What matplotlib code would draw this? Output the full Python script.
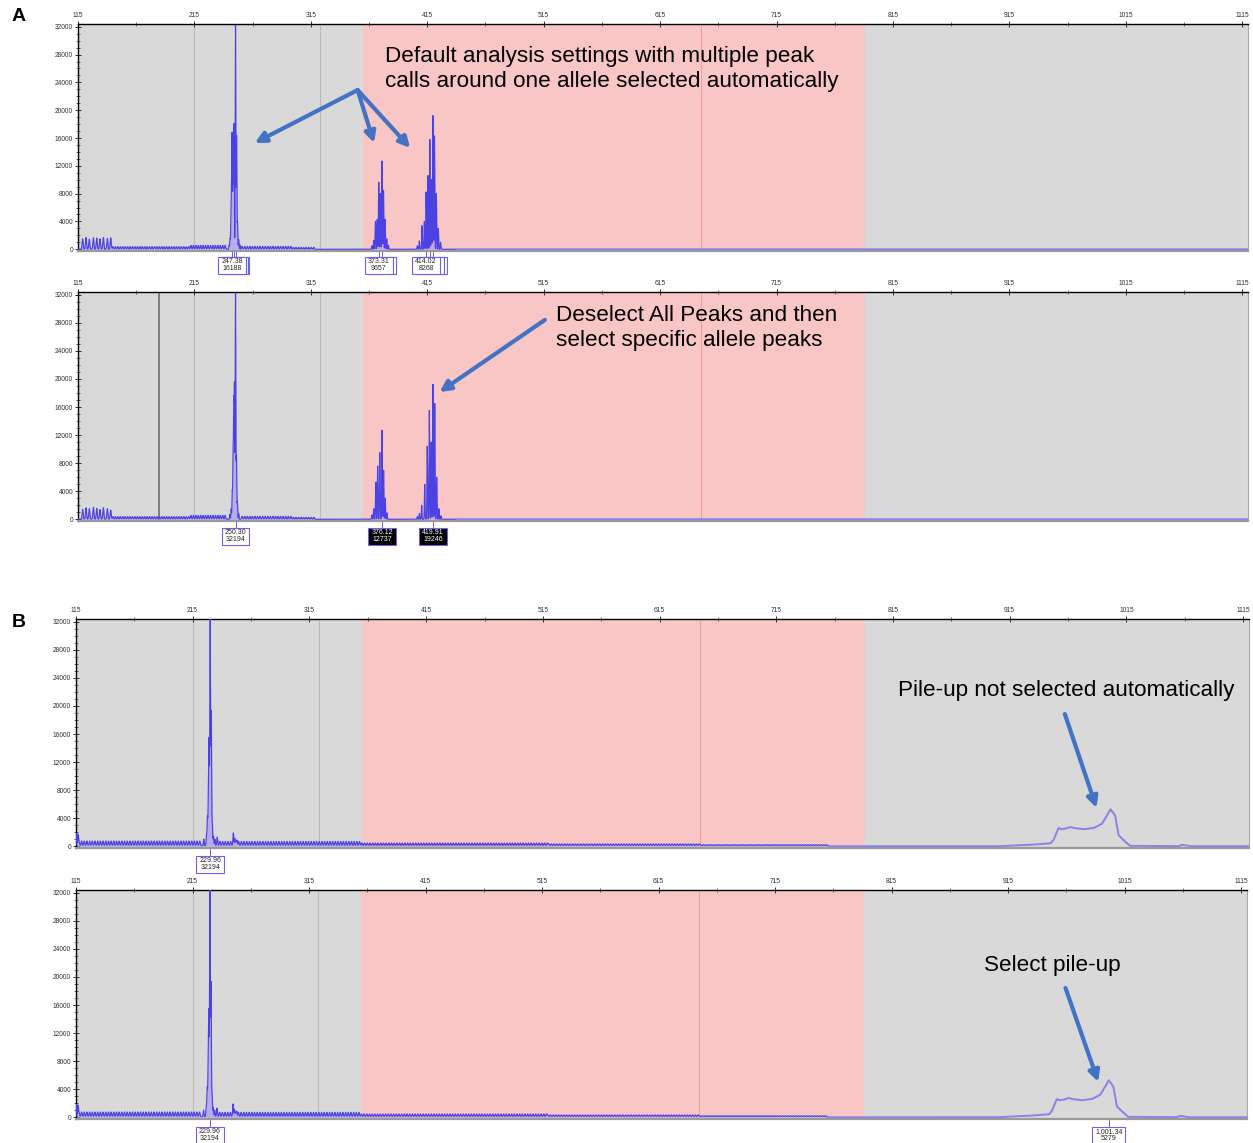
import numpy as np
import matplotlib.pyplot as plt
from matplotlib.patches import Rectangle
from matplotlib.ticker import FixedLocator

plt.rcParams['font.family'] = ['Liberation Sans', 'DejaVu Sans']

W, H = 1253, 1143

# size scale (top) and signal scale (left)
size_ticks = list(range(115, 1116, 100))
size_minor = list(range(165, 1116, 100))
rfu_ticks = list(range(0, 32001, 4000))
rfu_minor = list(range(0, 32001, 1000))

window = (360, 791)
window_mark = 650
grid_marks = [215, 323]
a2_marker = 185

# tall ladder at the start of the A traces
a_start_pos = [119.0, 121.9, 124.7, 128.2, 131.1, 133.9, 136.8, 140.2, 143.1]
a1_start_h = [1500, 1700, 1450, 1650, 1600, 1500, 1700, 1550, 1650]
a2_start_h = [1400, 1650, 1500, 1700, 1550, 1400, 1650, 1500, 1300]

# low ladders: start, stop, spacing, height
a_ladder = [(145, 212, 2.1, 380), (212, 243, 2.1, 560),
            (256, 300, 2.2, 420), (300, 318, 2.2, 280)]
b_ladder = [(117.5, 222, 2.3, 650), (236, 360, 2.3, 600), (360, 520, 2.3, 380),
            (520, 650, 2.3, 240), (650, 760, 2.3, 120)]

# allele peaks, panel A (default settings)
a1_pos = [244.8, 245.6, 246.3, 246.8, 247.38, 248.2, 249.0, 250.30, 251.2, 252.0, 253.0, 254.2,
          367.5, 369.0, 370.5, 372.0, 373.31, 374.7, 376.12, 377.4, 378.8, 380.2, 381.6,
          406.5, 408.2, 410.5, 412.5, 414.02, 415.6, 417.2, 418.6, 419.91, 421.2, 422.8, 424.5, 426.4]
a1_h = [600, 1500, 3000, 8000, 16188, 15800, 18000, 32194, 16300, 4000, 1400, 600,
        500, 1300, 4000, 4300, 9657, 8000, 12737, 8500, 4300, 1500, 600,
        500, 1200, 3400, 4000, 8268, 10600, 15800, 10000, 19246, 16300, 8000, 3000, 1000]

# allele peaks, panel A (manual selection)
a2_pos = [245.5, 246.6, 247.5, 248.2, 248.8, 249.4, 250.30, 251.1, 251.9, 253.0,
          367.5, 369.0, 370.8, 372.4, 374.2, 376.12, 377.5, 378.9, 380.4,
          406.5, 408.2, 410.2, 412.8, 415.0, 416.8, 418.4, 419.91, 421.4, 423.1, 425.0, 426.8]
a2_h = [700, 1500, 4000, 9000, 16000, 18500, 32194, 9000, 2500, 800,
        600, 1500, 5300, 7600, 9500, 12737, 7000, 3000, 900,
        400, 800, 2000, 5000, 10400, 15500, 11000, 19246, 16500, 6000, 1500, 500]

# panel B peaks
b_pos = [115.6, 116.8, 224.5, 226.8, 227.6, 228.4, 229.0, 229.96, 230.9, 231.8, 232.8, 234.0,
         236.0, 249.8, 251.0, 253.0]
b_h = [1800, 1400, 900, 1500, 4000, 6000, 14400, 32194, 19000, 3000, 1300, 900,
       600, 1200, 1000, 700]

# pile-up envelope
pile_x = [905, 913, 931, 950, 952.5, 956.8, 959, 962.5, 966.8, 970, 978, 987, 994, 998.7,
          1001.34, 1005.3, 1008.2, 1012.4, 1018, 1060, 1062, 1064, 1068, 1070]
pile_y = [0, 60, 180, 420, 880, 2600, 2420, 2500, 2750, 2600, 2420, 2600, 3200, 4470,
          5279, 4370, 1580, 880, 60, 0, 180, 180, 60, 0]

# peak calls: clusters of (size, height)
a1_calls = [[(247.38, 16188), (249.00, 18000), (250.30, 32194)],
            [(373.31, 9657), (376.12, 12737)],
            [(414.02, 8268), (417.20, 15800), (419.91, 19246)]]
a2_calls = [[(250.30, 32194)], [(376.12, 12737)], [(419.91, 19246)]]
a2_selected = [False, True, True]
b1_calls = [[(229.96, 32194)]]
b2_calls = [[(229.96, 32194)], [(1001.34, 5279)]]

xs = np.arange(115, 1120, 0.05)
LINE = '#4c42e4'
SOFT = '#8a82e6'
FILL = '#ab9ff0'
EDGE = '#6b62e6'
ARROW = '#4472c4'


def gauss_sum(pos, hts, width):
    y = np.zeros_like(xs)
    for p, h in zip(pos, hts):
        near = np.abs(xs - p) < 6 * width
        y[near] += h * np.exp(-0.5 * ((xs[near] - p) / width) ** 2)
    return y


def ladder_trace(segments, width=0.45):
    y = np.zeros_like(xs)
    for start, stop, step, h in segments:
        pos = np.arange(start, stop, step)
        y += gauss_sum(pos, [h] * len(pos), width)
    return y


def setup(ax, extra_marks=()):
    ax.set_xlim(115, 1120)
    ax.set_ylim(-250, 32400)
    ax.set_facecolor('#d9d9d9')
    ax.axvspan(*window, color='#f9c6c6', zorder=0, lw=0)
    ax.axvline(window_mark, color='#e8a3a3', lw=0.8, zorder=0.5)
    for g in grid_marks:
        ax.axvline(g, color='#bcbcbc', lw=0.8, zorder=0.5)
    for m in extra_marks:
        ax.axvline(m, color='#6e6e6e', lw=1.2, zorder=0.5)
    ax.xaxis.tick_top()
    ax.xaxis.set_major_locator(FixedLocator(size_ticks))
    ax.xaxis.set_minor_locator(FixedLocator(size_minor))
    ax.yaxis.set_major_locator(FixedLocator(rfu_ticks))
    ax.yaxis.set_minor_locator(FixedLocator(rfu_minor))
    ax.tick_params(which='both', direction='inout', colors='#303030', labelsize=4.8, pad=1.5)
    ax.tick_params(which='major', length=4, width=0.7)
    ax.tick_params(which='minor', length=3, width=0.5)
    ax.tick_params(axis='x', which='both', top=True, bottom=False)
    for s in ('top', 'left'):
        ax.spines[s].set_color('black')
        ax.spines[s].set_linewidth(1.0)
    ax.spines['right'].set_color('#a8a8a8')
    ax.spines['bottom'].set_color('#9a9a9a')
    ax.spines['bottom'].set_linewidth(1.6)


def draw_trace(ax, y, fill_y, split):
    ax.fill_between(xs, 0, fill_y, color=FILL, alpha=0.75, lw=0, zorder=2)
    left = xs <= split
    ax.plot(xs[left], y[left], color=LINE, lw=0.85, zorder=3)
    ax.plot(xs[~left], y[~left], color=SOFT, lw=1.4, zorder=3)


def draw_calls(ax, clusters, ybox, selected=None):
    tr = ax.get_xaxis_transform()
    px = ax.get_position().width * W / (ax.get_xlim()[1] - ax.get_xlim()[0])
    hbox = 17 / (ax.get_position().height * H)
    for i, cluster in enumerate(clusters):
        sel = selected[i] if selected else False
        x0, h0 = cluster[0]
        label = f"{x0:,.2f}\n{h0}"
        wbox = (12 + 2.6 * len(f"{x0:,.2f}")) / px
        for j, (x, h) in reversed(list(enumerate(cluster))):
            ax.plot([x, x], [-0.006, ybox + hbox / 2], transform=tr, clip_on=False,
                    color=EDGE, lw=0.7, zorder=4)
            ax.add_patch(Rectangle((x0 - wbox / 2 + (x - x0), ybox - hbox / 2), wbox, hbox,
                                   transform=tr, clip_on=False, zorder=5 + len(cluster) - j,
                                   fc='black' if sel else 'white', ec=EDGE, lw=0.8))
        ax.text(x0, ybox, label, transform=tr, ha='center', va='center', fontsize=5.0,
                linespacing=1.1, color='white' if sel else '#262626', clip_on=False,
                zorder=10)


def arrow(ax, tail, head):
    ax.annotate('', xy=head, xytext=tail, xycoords='axes fraction', textcoords='axes fraction',
                arrowprops=dict(arrowstyle='-|>', color=ARROW, lw=3, mutation_scale=16,
                                shrinkA=0, shrinkB=0), zorder=6)


def note(ax, x, y, txt):
    ax.text(x, y, txt, transform=ax.transAxes, fontsize=16.2, va='top', ha='left',
            linespacing=1.28, zorder=7)


def rect(l, t, r, b):
    return [l / W, 1 - b / H, (r - l) / W, (b - t) / H]


fig = plt.figure(figsize=(W / 100, H / 100), dpi=100)

a_base = ladder_trace(a_ladder)
b_base = ladder_trace(b_ladder) + 100 * ((xs > 116) & (xs < 760))
pile = np.interp(xs, pile_x, pile_y, left=0, right=0)

# A, default analysis
ax1 = fig.add_axes(rect(78, 24, 1248, 251))
setup(ax1)
y1 = a_base + gauss_sum(a_start_pos, a1_start_h, 0.45) + gauss_sum(a1_pos, a1_h, 0.25)
draw_trace(ax1, y1, y1, 440)
draw_calls(ax1, a1_calls, -0.062)
note(ax1, 0.262, 0.904, "Default analysis settings with multiple peak\ncalls around one allele selected automatically")
for head in [(0.151, 0.476), (0.253, 0.476), (0.284, 0.454)]:
    arrow(ax1, (0.239, 0.709), head)

# A, manual selection
ax2 = fig.add_axes(rect(78, 292, 1248, 521))
setup(ax2, extra_marks=[a2_marker])
y2 = a_base + gauss_sum(a_start_pos, a2_start_h, 0.45) + gauss_sum(a2_pos, a2_h, 0.25)
draw_trace(ax2, y2, y2, 440)
draw_calls(ax2, a2_calls, -0.066, a2_selected)
note(ax2, 0.4085, 0.944, "Deselect All Peaks and then\nselect specific allele peaks")
arrow(ax2, (0.399, 0.878), (0.309, 0.563))

# B, pile-up not called
b_peaks = b_base + gauss_sum(b_pos, b_h, 0.3)
ax3 = fig.add_axes(rect(76, 619, 1249, 848))
setup(ax3)
draw_trace(ax3, b_peaks + pile, b_peaks, 760)
draw_calls(ax3, b1_calls, -0.07)
note(ax3, 0.701, 0.732, "Pile-up not selected automatically")
arrow(ax3, (0.843, 0.585), (0.870, 0.175))

# B, pile-up selected
ax4 = fig.add_axes(rect(76, 890, 1247, 1119))
setup(ax4)
draw_trace(ax4, b_peaks + pile, b_peaks, 760)
draw_calls(ax4, b2_calls, -0.07)
note(ax4, 0.775, 0.716, "Select pile-up")
arrow(ax4, (0.845, 0.572), (0.873, 0.162))

fig.text(12 / W, 1 - 8 / H, 'A', fontsize=14, fontweight='bold', va='top')
fig.text(12 / W, 1 - 614 / H, 'B', fontsize=14, fontweight='bold', va='top')

fig.savefig('out.png', dpi=100)
